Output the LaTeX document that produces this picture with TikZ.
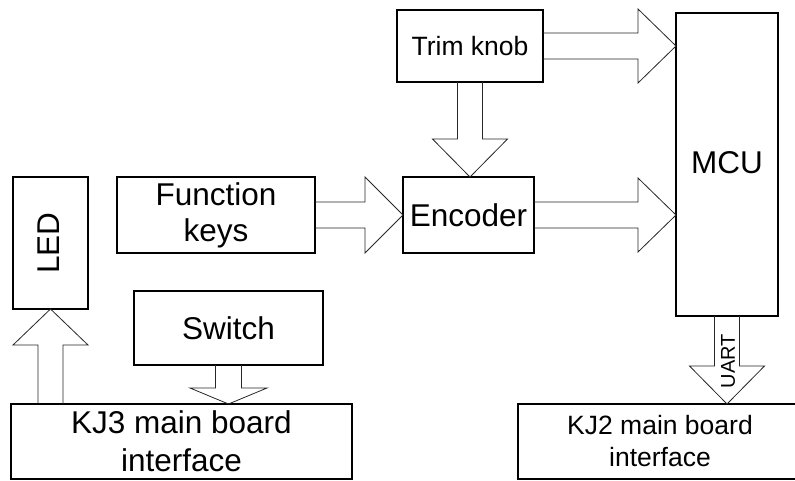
\documentclass[tikz,border=0pt]{standalone}
\usepackage{fontspec}
\setmainfont{Liberation Sans}
\usetikzlibrary{calc}
\newcommand\bigtxt{\fontsize{31.5}{36}\selectfont}
\newcommand\bigtxtb{\fontsize{31.5}{38}\selectfont}
\newcommand\midtxt{\fontsize{26.5}{32}\selectfont}
\newcommand\smalltxt{\fontsize{20}{24}\selectfont}
\tikzset{
  box/.style={draw=black, line width=1.3pt, inner sep=0pt, outer sep=0pt, align=center, fill=white},
  txt/.style={inner sep=0pt, outer sep=0pt, align=center},
  fat/.style={draw=black!85, line width=0.8pt, line join=miter},
}
% #1 start, #2 tip, #3 shaft half width, #4 head half width, #5 head length
\newcommand\fatarrow[5]{%
  \path ($(#2)!#5!(#1)$) coordinate (fa-h);
  \draw[fat] ($(#1)!#3!90:(#2)$) -- ($(fa-h)!#3!-90:(#1)$) -- ($(fa-h)!#4!-90:(#1)$)
    -- (#2) -- ($(fa-h)!#4!90:(#1)$) -- ($(fa-h)!#3!90:(#1)$) -- ($(#1)!#3!-90:(#2)$);
}
\begin{document}
\begin{tikzpicture}[x=1pt,y=-1pt]
\useasboundingbox (0,0) rectangle (795,480);
\clip (0,0) rectangle (795,480);

\node[box, font=\midtxt, minimum width=146pt, minimum height=72pt] (trim) at (470,46) {Trim knob};
\node[box, minimum width=102pt, minimum height=303pt] (mcu) at (727,164.5) {};
\node[txt, font=\bigtxt] (mcutext) at (727,163) {MCU};
\node[box, font=\bigtxt, minimum width=131pt, minimum height=76pt] (enc) at (468.5,215) {Encoder};
\node[box, font=\bigtxt, minimum width=198pt, minimum height=76pt] (fkeys) at (216,215) {Function\\keys};
\node[box, minimum width=75pt, minimum height=132pt] (led) at (50.5,243) {};
\node[txt, font=\bigtxt, rotate=90] (ledtext) at (48.5,243) {LED};
\node[box, font=\bigtxt, minimum width=189pt, minimum height=74pt] (switch) at (228.5,328) {Switch};
\node[box, font=\bigtxtb, minimum width=341pt, minimum height=75pt] (kj3) at (181.5,441.5) {KJ3 main board\\interface};
\node[box, font=\midtxt, minimum width=284pt, minimum height=75pt] (kj2) at (660,441.5) {KJ2 main board\\interface};

\coordinate (a1e) at (mcu.west |- trim.east);
\coordinate (a2e) at (mcu.west |- enc.east);
\coordinate (a4e) at (trim.south |- enc.north);
\coordinate (a5s) at (led.south |- kj3.north);
\coordinate (a6e) at (switch.south |- kj3.north);
\coordinate (a7e) at (mcu.south |- kj2.north);

\fatarrow{trim.east}{a1e}{13pt}{37pt}{38pt}
\fatarrow{enc.east}{a2e}{13pt}{37pt}{38pt}
\fatarrow{fkeys.east}{enc.west}{13pt}{38pt}{38pt}
\fatarrow{trim.south}{a4e}{12.5pt}{37.5pt}{38pt}
\fatarrow{a5s}{led.south}{12.5pt}{37.5pt}{36pt}
\fatarrow{switch.south}{a6e}{13pt}{38.5pt}{16pt}
\fatarrow{mcu.south}{a7e}{12.5pt}{37.5pt}{38pt}

\node[txt, font=\smalltxt, rotate=90] (uart) at (728,361) {UART};
\end{tikzpicture}
\end{document}
